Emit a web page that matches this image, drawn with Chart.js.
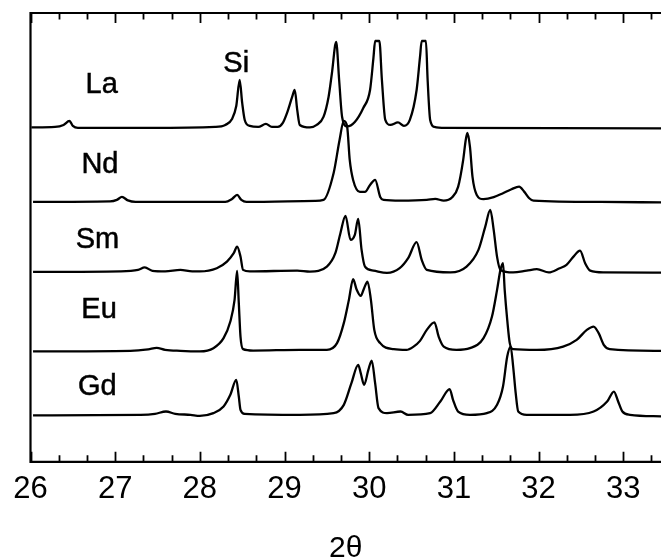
<!DOCTYPE html>
<html>
<head>
<meta charset="utf-8">
<script src="https://cdn.jsdelivr.net/npm/chart.js@4.4.1/dist/chart.umd.min.js"></script>
<style>
  html, body { margin: 0; padding: 0; background: #fff; }
  canvas { display: block; }
</style>
</head>
<body>
<canvas id="c" width="661" height="558"></canvas>
<script>
// ---- data: [2θ, intensity above the pattern's own baseline] ----
const xTicks = [26, 27, 28, 29, 30, 31, 32, 33];

const laPattern = [[26.01,0.5],[26.29,1],[26.39,3],[26.46,7],[26.50,2],[26.56,0],[27.41,0],[28.18,1],[28.30,3],[28.38,9],[28.43,22],[28.47,48],[28.50,25],[28.53,8],[28.59,2],[28.69,1],[28.78,4],[28.85,1],[28.92,1],[28.98,5],[29.03,15],[29.09,31],[29.12,38],[29.15,18],[29.18,3],[29.30,0.5],[29.38,3],[29.46,11],[29.52,31],[29.56,55],[29.61,86],[29.645,48],[29.68,11],[29.74,1.5],[29.83,6],[29.93,20],[30.01,38],[30.05,70],[30.07,87],[30.12,87],[30.15,48],[30.19,8],[30.25,3],[30.34,5.5],[30.41,2],[30.48,8],[30.56,38],[30.60,71],[30.62,87],[30.67,87],[30.69,48],[30.72,8],[30.77,1],[30.90,0],[33.45,-0.5]];

const ndPattern = [[26.03,0],[26.94,0.5],[27.02,2],[27.08,5],[27.15,1.5],[27.24,0],[28.30,0],[28.38,3],[28.44,7],[28.49,2],[28.55,0],[29.36,1],[29.46,2],[29.58,29],[29.65,62],[29.70,81],[29.74,75],[29.77,42],[29.81,22],[29.89,10],[29.95,10],[30.01,17],[30.07,22],[30.13,5],[30.17,2],[30.37,1.3],[30.68,2],[30.78,3],[30.88,1.3],[30.98,4.7],[31.05,15],[31.11,42],[31.14,62],[31.16,69],[31.19,55],[31.22,25],[31.27,7],[31.35,2.7],[31.47,4.7],[31.58,8.7],[31.68,12.7],[31.77,15.3],[31.83,10.3],[31.89,3.7],[31.94,1.3],[32.73,0],[33.45,-0.5]];

const smPattern = [[26.03,0],[27.06,0.5],[27.27,2],[27.35,4.5],[27.44,1],[27.59,0.5],[27.77,2],[27.91,0.5],[28.00,0.5],[28.20,3.7],[28.32,10.3],[28.40,18.7],[28.44,25.3],[28.48,15.3],[28.51,2],[28.59,0.5],[29.15,1.3],[29.30,0.3],[29.50,5.3],[29.60,18.7],[29.66,38.7],[29.72,56],[29.78,32],[29.83,37],[29.87,53],[29.91,22],[29.95,5.3],[30.05,1.3],[30.21,-1],[30.36,3.7],[30.46,13.7],[30.56,29.7],[30.62,12],[30.68,2],[30.96,-0.5],[31.15,5.3],[31.29,22],[31.37,45],[31.43,62],[31.47,42],[31.51,15],[31.55,2],[31.70,-0.5],[31.86,1.3],[31.98,2.7],[32.12,-0.5],[32.25,3.7],[32.33,7],[32.41,15],[32.49,21.3],[32.55,8.7],[32.61,1.3],[32.77,-0.5],[33.45,-0.7]];

const euPattern = [[26.03,-0.5],[27.18,0],[27.39,1.5],[27.49,3],[27.59,1],[27.77,0],[28.00,-0.5],[28.16,2.7],[28.28,12.7],[28.36,29.3],[28.41,51],[28.44,80],[28.46,47.7],[28.48,14.3],[28.51,1.7],[28.63,0.3],[29.18,1],[29.50,1],[29.62,7.7],[29.70,27.7],[29.76,51],[29.81,71.7],[29.85,61.7],[29.90,55],[29.94,62.7],[29.98,69.3],[30.02,51],[30.06,21],[30.13,7.7],[30.29,1.7],[30.44,1],[30.52,4],[30.60,10],[30.68,21],[30.77,28.5],[30.82,14.3],[30.88,4.3],[31.03,1],[31.19,2.7],[31.35,12.7],[31.45,34.3],[31.51,61],[31.55,81],[31.58,87.7],[31.60,61],[31.63,31],[31.66,7.7],[31.70,1.7],[31.98,1],[32.29,4.3],[32.45,11],[32.57,21],[32.65,24.3],[32.71,17.7],[32.77,6],[32.84,1.7],[33.45,0]];

const gdPattern = [[26.03,-0.5],[27.30,0],[27.47,1],[27.60,3.3],[27.71,1],[27.89,0],[28.00,-1],[28.16,1.7],[28.28,8.3],[28.36,20],[28.43,35],[28.46,18.3],[28.48,5],[28.53,1],[29.18,0],[29.58,1.7],[29.70,10],[29.79,31.7],[29.87,50],[29.90,41.7],[29.94,30],[29.99,45],[30.03,54.3],[30.07,31.7],[30.11,6.7],[30.21,1.7],[30.37,3.3],[30.46,0],[30.72,1.7],[30.84,13.3],[30.95,25.7],[30.99,15],[31.05,3.3],[31.19,0],[31.39,1.7],[31.51,10],[31.58,28.3],[31.63,58.3],[31.67,68.3],[31.70,48.3],[31.73,21.7],[31.76,3.3],[31.86,0],[32.37,0],[32.65,3.3],[32.81,13.3],[32.89,23.3],[32.94,13.3],[32.99,3.3],[33.08,0],[33.45,-1.5]];

const seriesNames = ['La', 'Nd', 'Sm', 'Eu', 'Gd'];
const seriesPatterns = [laPattern, ndPattern, smPattern, euPattern, gdPattern];
const seriesOffsets = [334, 260, 190, 111, 47];

// ---- presentation ----
const FONT = '"Liberation Sans", Arial, Helvetica, sans-serif';
const textLabels = [
  { text: 'La', x: 26.84, y: 369 },
  { text: 'Si', x: 28.43, y: 390 },
  { text: 'Nd', x: 26.82, y: 289 },
  { text: 'Sm', x: 26.79, y: 214 },
  { text: 'Eu', x: 26.81, y: 144 },
  { text: 'Gd', x: 26.79, y: 67 }
];

const framePlugin = {
  id: 'frame',
  afterDraw(chart) {
    const { ctx, chartArea: { left, right, top, bottom }, scales: { x } } = chart;
    ctx.save();
    ctx.strokeStyle = '#000';
    ctx.lineWidth = 2.2;
    ctx.beginPath();
    ctx.moveTo(left - 1, top); ctx.lineTo(right, top);
    ctx.moveTo(left, top - 1); ctx.lineTo(left, bottom + 1);
    ctx.moveTo(left - 1, bottom); ctx.lineTo(right, bottom);
    ctx.stroke();
    ctx.lineWidth = 1.8;
    ctx.beginPath();
    xTicks.forEach(v => {
      [0, 1 / 3, 2 / 3].forEach((d, k) => {
        const val = v + d;
        if (val > x.max) return;
        const px = Math.round(x.getPixelForValue(val)) + 0.5;
        const len = k === 0 ? 10 : 6.5;
        ctx.moveTo(px, bottom); ctx.lineTo(px, bottom - len);
        ctx.moveTo(px, top); ctx.lineTo(px, top + len);
      });
    });
    ctx.stroke();
    ctx.restore();
  },
  afterDatasetsDraw(chart) {
    const { ctx, scales: { x, y } } = chart;
    ctx.save();
    ctx.fillStyle = '#000';
    ctx.strokeStyle = '#000';
    ctx.lineWidth = 0.5;
    ctx.font = '29px ' + FONT;
    ctx.textAlign = 'center';
    ctx.textBaseline = 'alphabetic';
    textLabels.forEach(l => {
      const px = x.getPixelForValue(l.x), py = y.getPixelForValue(l.y);
      ctx.fillText(l.text, px, py);
      ctx.strokeText(l.text, px, py);
    });
    ctx.restore();
  }
};

new Chart(document.getElementById('c'), {
  type: 'line',
  data: {
    datasets: seriesNames.map((name, i) => ({
      label: name,
      data: seriesPatterns[i].map(([tt, h]) => ({ x: tt, y: seriesOffsets[i] + h })),
      borderColor: '#000',
      borderWidth: 2.3,
      pointRadius: 0,
      fill: false,
      cubicInterpolationMode: 'monotone'
    }))
  },
  options: {
    responsive: false,
    animation: false,
    layout: { padding: { left: 30.5, top: 13, right: 0, bottom: 0 } },
    plugins: { legend: { display: false }, tooltip: { enabled: false } },
    scales: {
      x: {
        type: 'linear',
        min: 26,
        max: 33.446,
        grid: { display: false, drawTicks: false },
        border: { display: false },
        afterBuildTicks: s => { s.ticks = xTicks.map(v => ({ value: v })); },
        ticks: { font: { family: FONT, size: 31 }, color: '#000', padding: 9, maxRotation: 0, autoSkip: false },
        title: { display: true, text: '2θ', color: '#000', font: { family: FONT, size: 30, lineHeight: 0.6 }, padding: { top: 23, bottom: 0 } }
      },
      y: { type: 'linear', display: false, min: 0, max: 449 }
    }
  },
  plugins: [framePlugin]
});
</script>
</body>
</html>
